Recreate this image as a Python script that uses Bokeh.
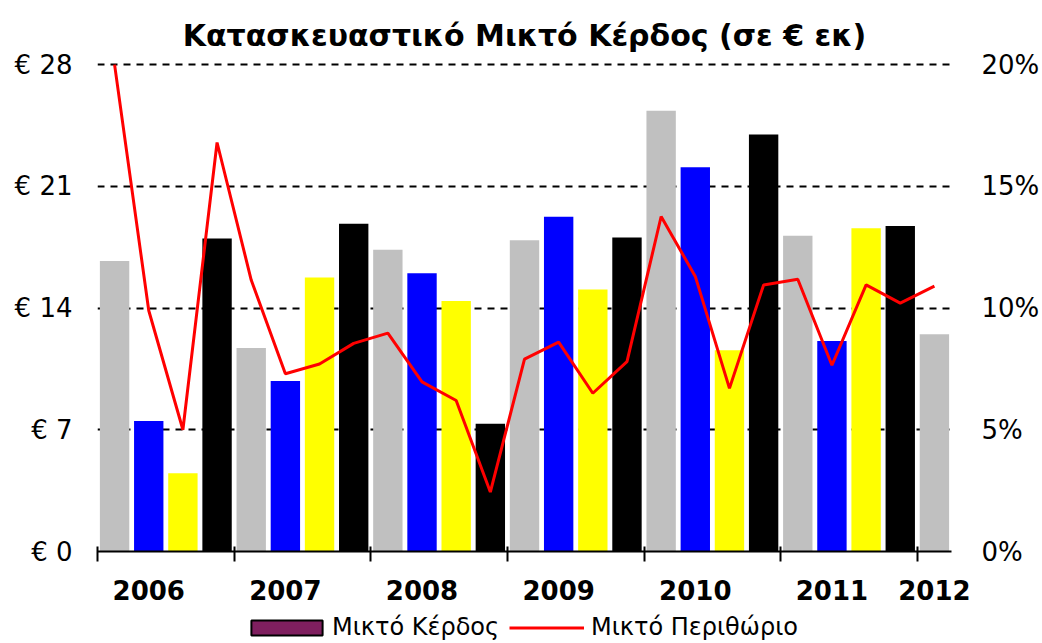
from bokeh.plotting import figure
from bokeh.layouts import column
from bokeh.models import (Range1d, LinearAxis, FixedTicker, ColumnDataSource,
                          Legend, LegendItem)
from bokeh.embed import file_html
from bokeh.resources import INLINE

# ---------------- data ----------------
quarters = ["2006Q1", "2006Q2", "2006Q3", "2006Q4",
            "2007Q1", "2007Q2", "2007Q3", "2007Q4",
            "2008Q1", "2008Q2", "2008Q3", "2008Q4",
            "2009Q1", "2009Q2", "2009Q3", "2009Q4",
            "2010Q1", "2010Q2", "2010Q3", "2010Q4",
            "2011Q1", "2011Q2", "2011Q3", "2011Q4",
            "2012Q1"]
gross_profit = [16.7, 7.5, 4.5, 18.0,
                11.7, 9.8, 15.75, 18.85,
                17.35, 16.0, 14.4, 7.35,
                17.9, 19.25, 15.07, 18.05,
                25.35, 22.1, 11.58, 23.98,
                18.16, 12.1, 18.59, 18.72,
                12.5]
gross_margin = [20.0, 9.9, 5.0, 16.8,
                11.15, 7.3, 7.7, 8.55,
                8.97, 6.97, 6.2, 2.44,
                7.9, 8.6, 6.5, 7.8,
                13.76, 11.3, 6.7, 10.95,
                11.18, 7.65, 10.95, 10.2,
                10.9]
year_labels = ["2006", "2007", "2008", "2009", "2010", "2011", "2012"]
year_label_quarters = ["2006Q2", "2007Q2", "2008Q2", "2009Q2", "2010Q2", "2011Q2", "2012Q1"]
year_start_quarters = ["2006Q1", "2007Q1", "2008Q1", "2009Q1", "2010Q1", "2011Q1", "2012Q1"]
left_ticks = [0, 7, 14, 21, 28]
right_ticks = [0, 5, 10, 15, 20]

title_text = "Κατασκευαστικό Μικτό Κέρδος (σε € εκ)"
legend_bar = "Μικτό Κέρδος"
legend_line = "Μικτό Περιθώριο"

# ---------------- styles ----------------
quarter_palette = ["#C0C0C0", "#0000FF", "#FFFF00", "#000000"]
FONT = "DejaVu Sans"
HEAD = 1.0043   # small headroom so the top gridline stays visible

x = [i + 0.5 for i in range(len(quarters))]
colors = [quarter_palette[i % 4] for i in range(len(quarters))]
src = ColumnDataSource(dict(x=x, profit=gross_profit, margin=gross_margin, color=colors))

p = figure(width=1042, height=607, output_backend="svg", toolbar_location=None,
           x_range=Range1d(0, len(quarters)),
           y_range=Range1d(0, left_ticks[-1] * HEAD),
           min_border_left=97, min_border_right=85, min_border_top=62,
           min_border_bottom=56, outline_line_color=None,
           background_fill_color="white", border_fill_color="white")
p.extra_y_ranges = {"pct": Range1d(0, right_ticks[-1] * HEAD)}

p.title.text = title_text
p.title.text_font = FONT
p.title.text_font_size = "30px"
p.title.text_font_style = "bold"
p.title.align = "center"
p.title.vertical_align = "top"
p.title.text_color = "black"
p.title.standoff = 16

# bars
p.vbar(x="x", top="profit", width=0.86, bottom=0, source=src,
       fill_color="color", line_color=None)
# line
p.line(x="x", y="margin", source=src, y_range_name="pct",
       line_color="#FF0000", line_width=3)

# axes
xa = p.xaxis[0]
label_pos = [quarters.index(q) + 0.5 for q in year_label_quarters]
start_pos = [quarters.index(q) for q in year_start_quarters]
xa.ticker = FixedTicker(ticks=label_pos, minor_ticks=start_pos)
xa.major_label_overrides = {pos: lab for pos, lab in zip(label_pos, year_labels)}
xa.major_tick_line_color = None
xa.major_tick_in = 0
xa.major_tick_out = 0
xa.minor_tick_line_color = "black"
xa.minor_tick_line_width = 2
xa.minor_tick_in = 5
xa.minor_tick_out = 10
xa.axis_line_color = "black"
xa.axis_line_width = 2
xa.major_label_text_font = FONT
xa.major_label_text_font_style = "bold"
xa.major_label_text_font_size = "26px"
xa.major_label_text_color = "black"
xa.major_label_standoff = 18

ya = p.yaxis[0]
ya.ticker = FixedTicker(ticks=left_ticks)
ya.major_label_overrides = {t: f"€ {t}" for t in left_ticks}
ya.axis_line_color = None
ya.major_tick_line_color = None
ya.minor_tick_line_color = None
ya.major_label_text_font = FONT
ya.major_label_text_font_size = "26px"
ya.major_label_text_color = "black"
ya.major_label_standoff = 19

ra = LinearAxis(y_range_name="pct", ticker=FixedTicker(ticks=right_ticks))
ra.major_label_overrides = {t: f"{t}%" for t in right_ticks}
ra.axis_line_color = None
ra.major_tick_line_color = None
ra.minor_tick_line_color = None
ra.major_label_text_font = FONT
ra.major_label_text_font_size = "26px"
ra.major_label_text_color = "black"
ra.major_label_standoff = 24
p.add_layout(ra, "right")

p.xgrid.grid_line_color = None
p.ygrid.ticker = FixedTicker(ticks=left_ticks)
p.ygrid.grid_line_color = "black"
p.ygrid.grid_line_width = 2
p.ygrid.grid_line_dash = "7 6"

# ---------------- legend strip ----------------
lg = figure(width=1042, height=36, output_backend="svg", toolbar_location=None,
            x_range=Range1d(0, len(quarters)), y_range=Range1d(0, 28),
            x_axis_location=None, y_axis_location=None, min_border=0,
            outline_line_color=None, background_fill_color="white",
            border_fill_color="white")
lg.xgrid.visible = False
lg.ygrid.visible = False
bar_key = lg.vbar(x="x", top="profit", width=0.86, source=src,
                  fill_color="#7F1F5F", line_color="black", line_width=2,
                  visible=False)
line_key = lg.line(x="x", y="margin", source=src, line_color="#FF0000",
                   line_width=3, visible=False)

common = dict(orientation="horizontal", padding=0, margin=0,
              border_line_color=None, background_fill_alpha=0,
              inactive_fill_alpha=0, label_text_font=FONT,
              label_text_font_size="24px", label_text_color="black")
leg1 = Legend(items=[LegendItem(label=legend_bar, renderers=[bar_key])],
              location=(145, 2), glyph_width=89, glyph_height=19,
              label_standoff=1, **common)
leg2 = Legend(items=[LegendItem(label=legend_line, renderers=[line_key])],
              location=(412, 2), glyph_width=75, glyph_height=19,
              label_standoff=7, **common)
lg.add_layout(leg1, "center")
lg.add_layout(leg2, "center")

layout = column(p, lg, spacing=0)
open("out.html", "w").write(file_html(layout, INLINE))
